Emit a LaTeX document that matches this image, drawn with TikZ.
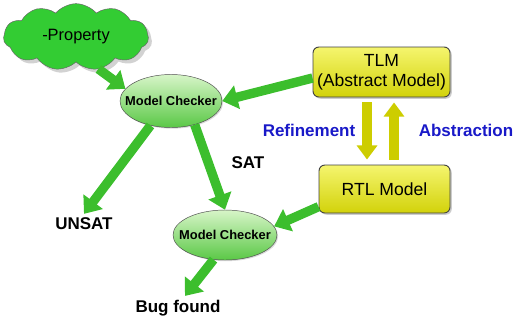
\documentclass[tikz,border=0pt]{standalone}
\usepackage{fontspec}
\setmainfont{Liberation Sans}
\usetikzlibrary{arrows.meta,shapes.geometric,shapes.symbols,shadows}
\definecolor{cloudgreen}{RGB}{51,204,51}
\definecolor{mclight}{RGB}{215,245,200}
\definecolor{mcdark}{RGB}{90,200,70}
\definecolor{arrowgreen}{RGB}{60,190,45}
\definecolor{boxyellow}{RGB}{210,210,10}
\definecolor{boxlight}{RGB}{245,245,110}
\definecolor{arrowyellow}{RGB}{205,205,0}
\definecolor{labelblue}{RGB}{25,25,200}

\begin{document}
\begin{tikzpicture}[
    x=0.03cm,y=-0.03cm,
    prop/.style={cloud,cloud puffs=11,cloud puff arc=100,aspect=2.2,fill=cloudgreen,
                 draw=black!60,inner sep=0pt,minimum width=4.35cm,minimum height=2cm,
                 font=\fontsize{14}{16}\selectfont,
                 drop shadow={shadow xshift=3pt,shadow yshift=-3pt,fill=black!35}},
    checker/.style={ellipse,draw=black!70,top color=mclight,bottom color=mcdark,
                    inner xsep=-0.3cm,inner ysep=0pt,font=\fontsize{11}{12}\selectfont\bfseries,
                    drop shadow={shadow xshift=1pt,shadow yshift=-1pt,opacity=0.3}},
    level/.style={rectangle,rounded corners=5pt,draw=black!75,thick,top color=boxlight,
                  bottom color=boxyellow,align=center,font=\fontsize{15}{17}\selectfont,
                  drop shadow={shadow xshift=1.5pt,shadow yshift=-1.5pt,opacity=0.4}},
    result/.style={font=\fontsize{14.5}{16}\selectfont\bfseries},
    flow/.style={arrowgreen,line width=8pt,-{Triangle[length=13pt,width=20pt]}},
    yflow/.style={arrowyellow,line width=8pt,-{Triangle[length=12pt,width=17pt]},
                  shorten <=0.15cm,shorten >=0.15cm}
]
    \useasboundingbox (0,0) rectangle (517,324);

    \node[prop] (prp) at (76,37) {-Property};
    \node[checker,minimum width=3.06cm,minimum height=1.59cm] (mc1) at (171,101) {Model Checker};
    \node[checker,minimum width=3.12cm,minimum height=1.5cm] (mc2) at (225,235) {Model Checker};
    \node[level,minimum width=4.11cm,minimum height=1.5cm] (tlm) at (381.5,72) {TLM\\(Abstract Model)};
    \node[level,minimum width=3.93cm,minimum height=1.44cm] (rtl) at (384.5,189) {RTL Model};

    \node[result] (unsat) at (84,224) {UNSAT};
    \node[result] (sat) at (248,163) {SAT};
    \node[result] (bug) at (178,308) {Bug found};
    \node[result,labelblue] (refine) at (309,130) {Refinement};
    \node[result,labelblue] (abstr) at (466,130) {Abstraction};

    \draw[flow] (prp.-55) -- (mc1.165);
    \draw[flow] (tlm.-175) -- (mc1.east);
    \draw[flow] (mc1.-130) -- (unsat.north);
    \draw[flow] (mc1.-45) -- (mc2.north);
    \draw[flow] (rtl.-165) -- (mc2.10);
    \draw[flow] (mc2.-115) -- (bug.60);

    \draw[yflow] ([xshift=-0.435cm]tlm.south) -- ([xshift=-0.525cm]rtl.north);
    \draw[yflow] ([xshift=0.285cm]rtl.north) -- ([xshift=0.375cm]tlm.south);
\end{tikzpicture}
\end{document}
